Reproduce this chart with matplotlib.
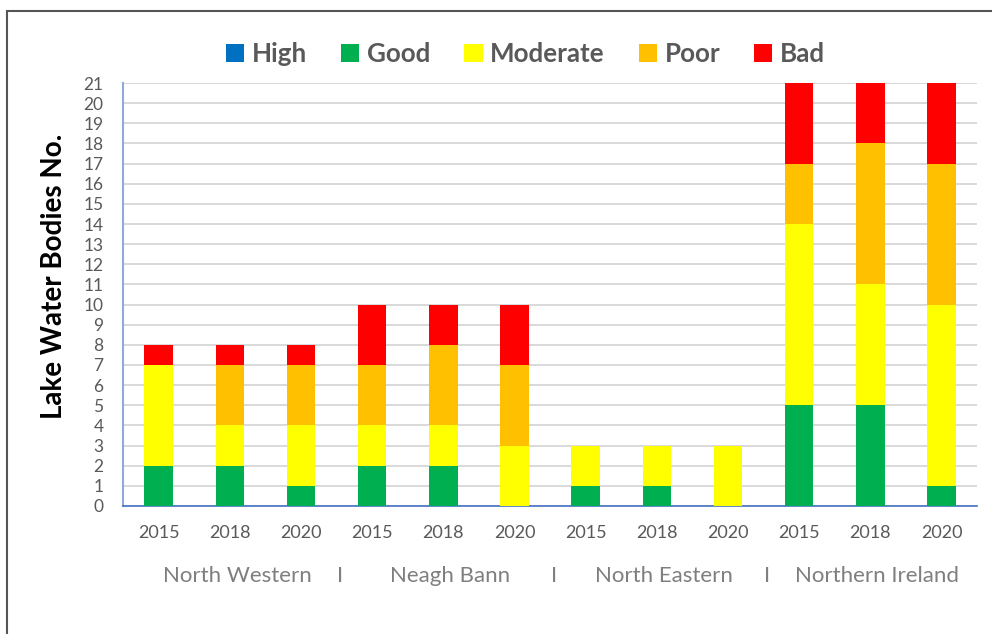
import matplotlib.pyplot as plt
from matplotlib.patches import Rectangle
import numpy as np

# Lake water body status by river basin district and year
years = ['2015', '2018', '2020'] * 4
districts = ['North Western', 'Neagh Bann', 'North Eastern', 'Northern Ireland']
classes = ['High', 'Good', 'Moderate', 'Poor', 'Bad']
colours = ['#0070c0', '#00b050', '#ffff00', '#ffc000', '#ff0000']

high = [0, 0, 0, 0, 0, 0, 0, 0, 0, 0, 0, 0]
good = [2, 2, 1, 2, 2, 0, 1, 1, 0, 5, 5, 1]
moderate = [5, 2, 3, 2, 2, 3, 2, 2, 3, 9, 6, 9]
poor = [0, 3, 3, 3, 4, 4, 0, 0, 0, 3, 7, 7]
bad = [1, 1, 1, 3, 2, 3, 0, 0, 0, 4, 3, 4]

plt.rcParams['font.family'] = ['Lato', 'DejaVu Sans']

fig = plt.figure(figsize=(9.92, 6.34), dpi=100)
ax = fig.add_axes([0.124, 0.202, 0.861, 0.667])

x = np.arange(len(years))
bottom = np.zeros(len(years))
for name, vals, col in zip(classes, [high, good, moderate, poor, bad], colours):
    ax.bar(x, vals, width=0.4, bottom=bottom, color=col, label=name, zorder=3)
    bottom += np.array(vals)

ax.set_xlim(-0.5, len(years) - 0.5)
ax.set_ylim(0, 21)
ax.set_yticks(range(0, 22))
ax.set_xticks(x)
ax.set_xticklabels(years)
ax.tick_params(axis='y', length=0, pad=14, labelsize=12.5, labelcolor='#595959')
ax.tick_params(axis='x', length=0, pad=14, labelsize=13, labelcolor='#595959')
ax.grid(axis='y', color='#d9d9d9', linewidth=1.4, zorder=0)

for s in ['top', 'right']:
    ax.spines[s].set_visible(False)
ax.spines['left'].set_color('#8eaadb')
ax.spines['left'].set_linewidth(1.5)
ax.spines['bottom'].set_color('#4472c4')
ax.spines['bottom'].set_linewidth(1.2)

ax.set_ylabel('Lake Water Bodies No.', fontsize=20, fontweight='bold', color='black')
ax.yaxis.set_label_coords(-0.066, 0.544)

# district names under the year labels, separated by "I"
for i, name in enumerate(districts):
    ax.text(3 * i + 1.1, -3.5, name, ha='center', va='center', fontsize=16, color='#7f7f7f')
    if i < len(districts) - 1:
        ax.text(3 * i + 2.55, -3.5, 'I', ha='center', va='center', fontsize=16, color='#7f7f7f')

leg = fig.legend(loc='center', bbox_to_anchor=(0.53, 0.915), ncol=5, frameon=False,
                 prop={'size': 18.7, 'weight': 'bold'}, handlelength=0.7, handleheight=0.7,
                 handletextpad=0.3, columnspacing=1.3)
for t in leg.get_texts():
    t.set_color('#595959')

# outer frame
fig.patches.append(Rectangle((7 / 992, -0.1), 1.1, 0.1 + (1 - 11 / 634), transform=fig.transFigure,
                             fill=False, edgecolor='#555555', linewidth=1.5))

fig.savefig('out.png', dpi=100)
